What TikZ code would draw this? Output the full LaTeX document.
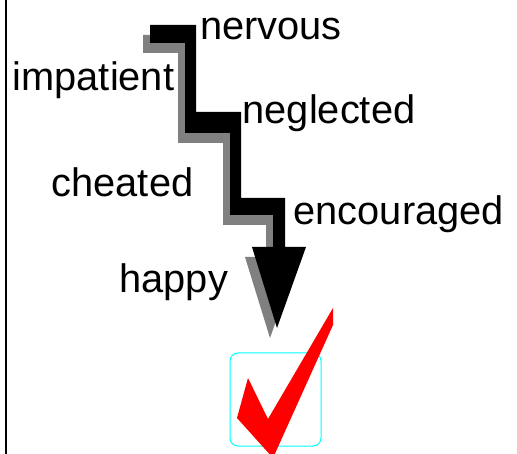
\documentclass[tikz,border=0pt]{standalone}
\usepackage{fontspec}
\setmainfont{Liberation Sans}
\definecolor{boxcyan}{RGB}{0,255,255}
\tikzset{
  word/.style={anchor=base west,inner sep=0pt,font=\fontsize{39.8}{46}\selectfont},
  tickbox/.style={draw=boxcyan,line width=1pt,rounded corners=8pt},
  tick/.style={fill=red}
}

\begin{document}
\begin{tikzpicture}[x=1pt,y=-1pt]
  \useasboundingbox (0,0) rectangle (517,454);
  \clip (0,0) rectangle (517,454);
  \draw[line width=2pt] (5.5,0) -- (5.5,454);
  % stepped arrow, shadow first
  \foreach \dx/\dy/\col in {-7/10/gray,0/0/black}
    \fill[\col,shift={(\dx,\dy)}] (150,25) -- (196,25) -- (196,112) -- (241,112)
      -- (241,198) -- (285,198) -- (285,247) -- (306,247) -- (277,328)
      -- (252,247) -- (273,247) -- (273,215) -- (230,215) -- (230,133)
      -- (185,133) -- (185,43) -- (150,43) -- cycle;
  \node[word] (nervous) at (200,40) {nervous};
  \node[word] (impatient) at (12.5,91) {impatient};
  \node[word] (neglected) at (242.5,124) {neglected};
  \node[word] (cheated) at (51.5,197) {cheated};
  \node[word] (encouraged) at (293.5,225) {encouraged};
  \node[word] (happy) at (119.3,293) {happy};
  % box and tick
  \draw[tickbox] (230,353) rectangle (321,446);
  \fill[tick] (248,378) -- (268,419) -- (333,308) -- (333,325) -- (273,458)
    -- (237,418) -- cycle;
\end{tikzpicture}
\end{document}
